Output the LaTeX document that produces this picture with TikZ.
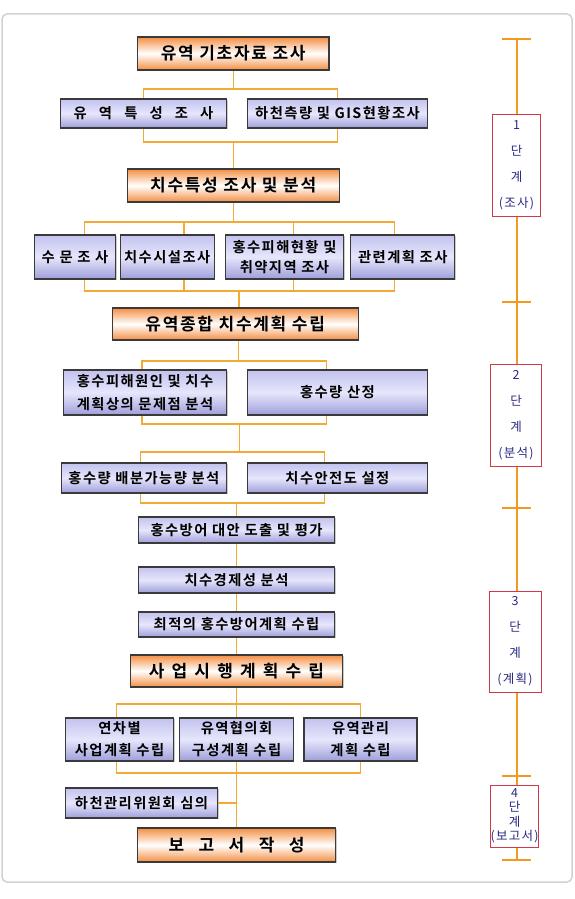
\documentclass[tikz,border=0pt]{standalone}
\usepackage{fontspec}
\usetikzlibrary{shadows}
\newfontfamily\krfont[LetterSpace=10,BoldFont={Noto Sans CJK KR Bold}]{Noto Sans CJK KR}
\definecolor{boxline}{HTML}{3A3A3A}
\definecolor{boxorange}{HTML}{F48E42}
\definecolor{lavtop}{HTML}{C2C2EE}
\definecolor{lavmid}{HTML}{E6E6FC}
\definecolor{lavbot}{HTML}{9E9EDA}
\definecolor{linkorange}{HTML}{F3AA35}
\definecolor{tlineorange}{HTML}{F39A1E}
\definecolor{stagered}{HTML}{D23848}
\definecolor{stagetext}{HTML}{2A2A82}
\definecolor{panelgray}{HTML}{D2D2D2}
\newcommand{\gp}{\hspace{0.85em}}
\newcommand{\kgp}{\hspace{0.42em}}

\begin{document}
\begin{tikzpicture}[x=1pt, y=-1pt,
  every node/.style={font=\krfont},
  mainbox/.style={draw=boxline, line width=1.1pt, inner sep=0pt, align=center,
    font=\krfont\bfseries\fontsize{17}{20}\selectfont,
    top color=boxorange, bottom color=boxorange, middle color=white,
    drop shadow={shadow xshift=1.2pt, shadow yshift=-1.2pt, fill=black!40}},
  subbox/.style={draw=boxline, line width=1.1pt, inner sep=0pt, align=center,
    font=\krfont\bfseries\fontsize{14.3}{20}\selectfont,
    top color=lavtop, bottom color=lavbot, middle color=lavmid,
    drop shadow={shadow xshift=1.2pt, shadow yshift=-1.2pt, fill=black!40}},
  stagebox/.style={draw=stagered, fill=white, line width=1pt, inner sep=0pt,
    align=center, text=stagetext, font=\krfont\fontsize{12.5}{26}\selectfont},
  link/.style={draw=linkorange, line width=1.1pt},
  tline/.style={draw=tlineorange, line width=1.8pt}]
  \useasboundingbox (0,0) rectangle (575,899);
  \draw[panelgray, line width=1.5pt, rounded corners=5pt, fill=white] (2,14) rectangle (572,882);

  % stage time line
  \coordinate (ttop) at (517,39);
  \coordinate (tbot) at (517,860);
  \draw[tline] (ttop) -- (tbot);
  \foreach \y in {39,302,508,776,860}
    \draw[tline] (502,\y) -- (531,\y);
  \node[stagebox, minimum width=48pt, minimum height=102pt] (s1) at (516.5,165) {1\\단\\계\\(조사)};
  \node[stagebox, minimum width=51pt, minimum height=102pt] (s2) at (516,415) {2\\단\\계\\(분석)};
  \node[stagebox, minimum width=52pt, minimum height=101pt] (s3) at (515,641.5) {3\\단\\계\\(계획)};
  \node[stagebox, minimum width=48pt, minimum height=62pt,
        font=\krfont\fontsize{12.5}{14.5}\selectfont] (s4) at (514.5,816) {4\\단\\계\\(보고서)};

  % flow boxes
  \node[mainbox, minimum width=191.5pt, minimum height=33pt] (a) at (233.2,53.5) {유역 기초자료 조사};
  \node[subbox, minimum width=166pt, minimum height=29pt] (b1) at (143.5,113.5) {유\gp 역\gp 특\gp 성\gp 조\gp 사};
  \node[subbox, minimum width=179.3pt, minimum height=29pt] (b2) at (337.5,113.5) {하천측량 및 GIS현황조사};
  \node[mainbox, minimum width=212pt, minimum height=33pt] (c) at (233.2,185.5) {치수특성 조사 및 분석};
  \node[subbox, minimum width=81.8pt, minimum height=44pt] (d1) at (75,257) {수 문 조 사};
  \node[subbox, minimum width=93.8pt, minimum height=44pt] (d2) at (167.2,257) {치수시설조사};
  \node[subbox, minimum width=118pt, minimum height=44pt] (d3) at (284.5,257) {홍수피해현황 및\\취약지역 조사};
  \node[subbox, minimum width=103.8pt, minimum height=44pt] (d4) at (402.8,257) {관련계획 조사};
  \node[mainbox, minimum width=246pt, minimum height=32pt] (e) at (235.2,324) {유역종합 치수계획 수립};
  \node[subbox, minimum width=163pt, minimum height=45pt,
        font=\krfont\bfseries\fontsize{14.3}{23}\selectfont] (f1) at (145,392.5) {홍수피해원인 및 치수\\계획상의 문제점 분석};
  \node[subbox, minimum width=179.7pt, minimum height=45pt] (f2) at (337.4,392.5) {홍수량 산정};
  \node[subbox, minimum width=165.4pt, minimum height=30pt] (g1) at (143.9,478) {홍수량 배분가능량 분석};
  \node[subbox, minimum width=179.7pt, minimum height=30pt] (g2) at (337.4,478) {치수안전도 설정};
  \node[subbox, minimum width=196.6pt, minimum height=26pt] (h) at (236.5,530) {홍수방어 대안 도출 및 평가};
  \node[subbox, minimum width=196.6pt, minimum height=26pt] (i) at (236.5,580) {치수경제성 분석};
  \node[subbox, minimum width=196.6pt, minimum height=25pt] (j) at (236.5,624.5) {최적의 홍수방어계획 수립};
  \node[mainbox, minimum width=212.7pt, minimum height=32pt] (k) at (236.5,671) {사\kgp 업\kgp 시\kgp 행\kgp 계\kgp 획\kgp 수\kgp 립};
  \node[subbox, minimum width=108.5pt, minimum height=43pt,
        font=\krfont\bfseries\fontsize{14.3}{22}\selectfont] (l1) at (119.5,739.5) {연차별\\사업계획 수립};
  \node[subbox, minimum width=113.4pt, minimum height=43pt,
        font=\krfont\bfseries\fontsize{14.3}{22}\selectfont] (l2) at (236.5,739.5) {유역협의회\\구성계획 수립};
  \node[subbox, minimum width=113pt, minimum height=43pt,
        font=\krfont\bfseries\fontsize{14.3}{22}\selectfont] (l3) at (360.5,739.5) {유역관리\\계획 수립};
  \node[subbox, minimum width=151.8pt, minimum height=30pt] (m) at (141.5,803) {하천관리위원회 심의};
  \node[mainbox, minimum width=197.6pt, minimum height=34pt] (n) at (236.5,845) {보\gp 고\gp 서\gp 작\gp 성};

  % junctions of the brackets
  \coordinate (ab) at (233.2,89);
  \coordinate (bc) at (233.2,142);
  \coordinate (cd) at (233.2,222);
  \coordinate (de) at (239,291);
  \coordinate (ef) at (238.3,361);
  \coordinate (fo) at (239.8,424);
  \coordinate (gi) at (239.8,452);
  \coordinate (go) at (236.5,503);
  \coordinate (kl) at (236.5,704);
  \coordinate (lo) at (236.5,773);

  % connectors
  \draw[link] (a.south) -- (ab);
  \draw[link] (b1.north) |- (ab) -| (b2.north);
  \draw[link] (b1.south) |- (bc) -| (b2.south);
  \draw[link] (bc) -- (c.north);
  \draw[link] (c.south) -- (cd);
  \draw[link] ([xshift=9.3pt]d1.north) |- (cd);
  \draw[link] ([xshift=16.8pt]d2.north) |- (cd);
  \draw[link] ([xshift=8.8pt]d3.north) |- (cd);
  \draw[link] ([xshift=-8.6pt]d4.north) |- (cd);
  \draw[link] ([xshift=9.3pt]d1.south) |- (de);
  \draw[link] ([xshift=16.8pt]d2.south) |- (de);
  \draw[link] ([xshift=8.8pt]d3.south) |- (de);
  \draw[link] ([xshift=-8.6pt]d4.south) |- (de);
  \draw[link] (de) -- (de |- e.north);
  \draw[link] (ef |- e.south) -- (ef);
  \draw[link] ([xshift=-3pt]f1.north) |- (ef) -| ([xshift=-11pt]f2.north);
  \draw[link] ([xshift=-3pt]f1.south) |- (fo) -| ([xshift=-11pt]f2.south);
  \draw[link] (fo) -- (gi);
  \draw[link] ([xshift=-3pt]g1.north) |- (gi) -| ([xshift=-13pt]g2.north);
  \draw[link] ([xshift=-3pt]g1.south) |- (go) -| ([xshift=-13pt]g2.south);
  \draw[link] (go) -- (h.north);
  \draw[link] (h.south) -- (i.north);
  \draw[link] (i.south) -- (j.north);
  \draw[link] (j.south) -- (k.north);
  \draw[link] (k.south) -- (l2.north);
  \draw[link] ([xshift=-3pt]l1.north) |- (kl) -| (l3.north);
  \draw[link] ([xshift=-3pt]l1.south) |- (lo) -| (l3.south);
  \draw[link] (l2.south) -- (n.north);
  \draw[link] (m.east) -- (m.east -| n.north);
\end{tikzpicture}
\end{document}
